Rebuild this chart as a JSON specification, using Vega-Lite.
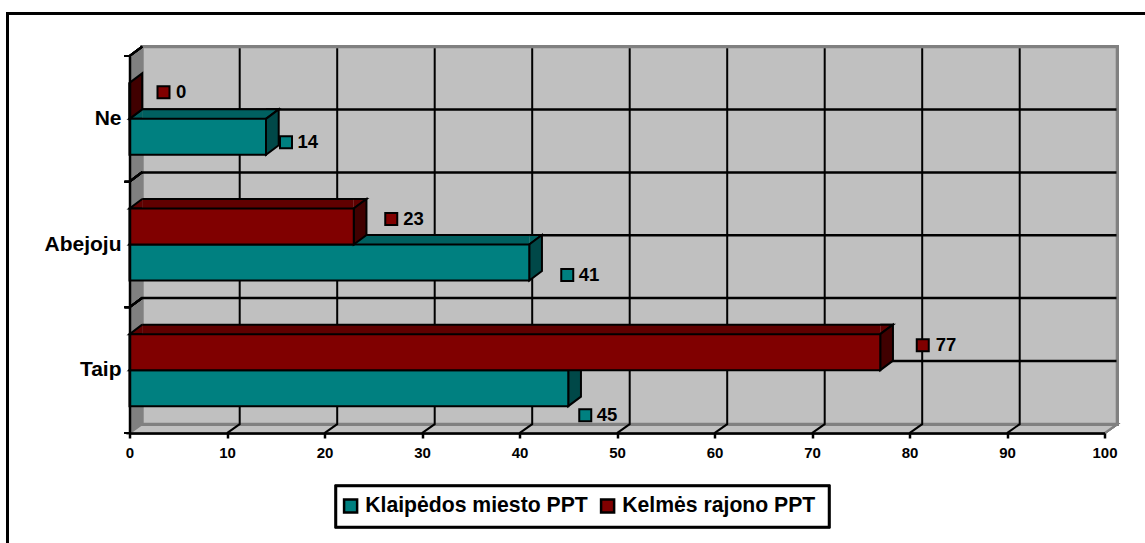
{
"$schema":"https://vega.github.io/schema/vega-lite/v6.json",
"width":975,"height":377,"autosize":"none",
"padding":{"left":129.5,"top":56,"right":40,"bottom":110},
"background":"white",
"config":{"view":{"stroke":null},"font":"Liberation Sans"},
"data":{"values":[
{"answer":"Taip","series":"Klaipėdos miesto PPT","value":45},
{"answer":"Abejoju","series":"Klaipėdos miesto PPT","value":41},
{"answer":"Ne","series":"Klaipėdos miesto PPT","value":14},
{"answer":"Taip","series":"Kelmės rajono PPT","value":77},
{"answer":"Abejoju","series":"Kelmės rajono PPT","value":23},
{"answer":"Ne","series":"Kelmės rajono PPT","value":0}
]},
"encoding":{
"x":{"field":"value","type":"quantitative","scale":{"domain":[0,100],"nice":false,"zero":true},"title":null,
"axis":{"values":[0,10,20,30,40,50,60,70,80,90,100],"grid":false,"zindex":1,"domainColor":"black","domainWidth":2.5,"tickColor":"black","tickWidth":2.5,"tickSize":5,"labelFont":"Liberation Sans","labelFontWeight":"bold","labelFontSize":15,"labelColor":"black","labelPadding":7,"labelFlush":false,"labelOverlap":false}},
"y":{"field":"answer","type":"nominal","scale":{"type":"band","domain":["Ne","Abejoju","Taip"],"paddingInner":0.427,"paddingOuter":0.2135},"title":null,
"axis":{"ticks":false,"grid":false,"zindex":1,"domainColor":"black","domainWidth":2.5,"labelFont":"Liberation Sans","labelFontWeight":"bold","labelFontSize":21,"labelColor":"black","labelPadding":8.5}}
},
"layer":[
{"mark":{"type":"point","shape":"M-122,173 L-122,-357 L1016,-357","filled":false,"stroke":"black","strokeWidth":2.5,"size":4,"opacity":1},
 "encoding":{"x":{"datum":0},"y":{"datum":"Taip"}}},
{"mark":{"type":"point","shape":"M206.5,115.8 L699.5,115.8 L699.5,156.8 L206.5,156.8 Z","filled":true,"fill":"white","stroke":"black","strokeWidth":2.5,"size":4,"opacity":1},
 "encoding":{"x":{"datum":0},"y":{"datum":"Taip"}}},
{"mark":{"type":"point","shape":"M0,-314 L12.7,-323.5 L12.7,54 L0,63 Z","filled":true,"fill":"#808080","stroke":"#808080","strokeWidth":1,"size":4,"opacity":1},
 "encoding":{"x":{"datum":0},"y":{"datum":"Taip"}}},
{"mark":{"type":"point","shape":"M0,63 L12.7,54 L987.7,54 L975,63 Z","filled":true,"fill":"#c0c0c0","stroke":"#808080","strokeWidth":2,"size":4,"opacity":1},
 "encoding":{"x":{"datum":0},"y":{"datum":"Taip"}}},
{"mark":{"type":"point","shape":"M12.7,-323.5 L987.7,-323.5 L987.7,54 L12.7,54 Z","filled":true,"fill":"#c0c0c0","stroke":"#808080","strokeWidth":3,"size":4,"opacity":1},
 "encoding":{"x":{"datum":0},"y":{"datum":"Taip"}}},
{"data":{"values":[{"tick":10},{"tick":20},{"tick":30},{"tick":40},{"tick":50},{"tick":60},{"tick":70},{"tick":80},{"tick":90}]},
 "mark":{"type":"point","shape":"M12.7,-322 L12.7,54 L0,63","filled":false,"stroke":"black","strokeWidth":2,"size":4,"opacity":1},
 "encoding":{"x":{"field":"tick","type":"quantitative"},"y":{"datum":"Taip"}}},
{"transform":[{"filter":"datum.series==='Klaipėdos miesto PPT'"}],
 "mark":{"type":"point","shape":"M12.7,-9.5 L986,-9.5 L986,-9 L12.7,-9 Z","filled":false,"stroke":"black","strokeWidth":2,"size":4,"opacity":1},
 "encoding":{"x":{"datum":0}}},
{"transform":[{"filter":"datum.series==='Klaipėdos miesto PPT' && datum.answer!=='Taip'"}],
 "mark":{"type":"point","shape":"M12.7,53.3 L986,53.3 L986,53.8 L12.7,53.8 Z","filled":false,"stroke":"black","strokeWidth":2,"size":4,"opacity":1},
 "encoding":{"x":{"datum":0}}},
{"mark":{"type":"point","shape":"M-5,-314.2 L0,-314.2 L12.7,-323.5 M-5,-188.5 L0,-188.5 L12.7,-198 M-5,-62.8 L0,-62.8 L12.7,-72.3 M-5,62.8 L0,62.8","filled":false,"stroke":"black","strokeWidth":2,"size":4,"opacity":1},
 "encoding":{"x":{"datum":0},"y":{"datum":"Taip"}}},

{"transform":[{"filter":"datum.series==='Klaipėdos miesto PPT'"}],
 "layer":[
 {"mark":{"type":"point","shape":"M12.7,0 L0,0 L12.7,-9.5","filled":true,"fill":"#006060","stroke":"black","strokeWidth":2,"size":4,"opacity":1},"encoding":{"x":{"datum":0}}},
 {"mark":{"type":"rule","color":"#006060","strokeWidth":9.5,"x2Offset":12.7,"yOffset":-4.75},"encoding":{"x2":{"datum":0}}},
 {"mark":{"type":"rule","color":"black","strokeWidth":2,"xOffset":12.7,"x2Offset":12.7,"yOffset":-9.5},"encoding":{"x2":{"datum":0}}},
 {"mark":{"type":"point","shape":"M0,0 L12.7,-9.5 L0,-9.5","filled":true,"fill":"#006060","stroke":"black","strokeWidth":2,"size":4,"opacity":1}},
 {"mark":{"type":"point","shape":"M0,0 L12.7,-9.5 L12.7,26.5 L0,36 Z","filled":true,"fill":"#004848","stroke":"black","strokeWidth":2,"size":4,"opacity":1}},
 {"mark":{"type":"bar","stroke":"black","strokeWidth":2},
  "encoding":{"yOffset":{"field":"series","type":"nominal","scale":{"domain":["Kelmės rajono PPT","Klaipėdos miesto PPT"]}},
   "color":{"field":"series","type":"nominal","scale":{"domain":["Klaipėdos miesto PPT","Kelmės rajono PPT"],"range":["#008080","#800000"]},
    "legend":{"title":null,"orient":"none","legendX":210.5,"legendY":439,"direction":"horizontal","columns":2,"symbolType":"square","symbolSize":170,"symbolStrokeColor":"black","symbolStrokeWidth":2.5,"labelFont":"Liberation Sans","labelFontWeight":"bold","labelFontSize":21.2,"labelColor":"black","labelOffset":4,"labelLimit":400,"columnPadding":8,"padding":0}}}}
 ]},

{"transform":[{"filter":"datum.series==='Kelmės rajono PPT'"}],
 "layer":[
 {"transform":[{"filter":"datum.value>1.4"}],
  "layer":[
  {"mark":{"type":"point","shape":"M12.7,-36 L0,-36 L12.7,-45.5","filled":true,"fill":"#600000","stroke":"black","strokeWidth":2,"size":4,"opacity":1},"encoding":{"x":{"datum":0}}},
  {"mark":{"type":"rule","color":"#600000","strokeWidth":9.5,"x2Offset":12.7,"yOffset":-40.75},"encoding":{"x2":{"datum":0}}},
  {"mark":{"type":"rule","color":"black","strokeWidth":2,"xOffset":12.7,"x2Offset":12.7,"yOffset":-45.5},"encoding":{"x2":{"datum":0}}},
  {"mark":{"type":"point","shape":"M0,-36 L12.7,-45.5 L0,-45.5","filled":true,"fill":"#600000","stroke":"black","strokeWidth":2,"size":4,"opacity":1}}
  ]},
 {"mark":{"type":"point","shape":"M0,-36 L12.7,-45.5 L12.7,-9.5 L0,0 Z","filled":true,"fill":"#400000","stroke":"black","strokeWidth":2,"size":4,"opacity":1}},
 {"mark":{"type":"bar","stroke":"black","strokeWidth":2},
  "encoding":{"yOffset":{"field":"series","type":"nominal","scale":{"domain":["Kelmės rajono PPT","Klaipėdos miesto PPT"]}},
   "color":{"field":"series","type":"nominal","scale":{"domain":["Klaipėdos miesto PPT","Kelmės rajono PPT"],"range":["#008080","#800000"]}}}}
 ]},

{"transform":[{"filter":"datum.value===0"}],"layer":[
 {"mark":{"type":"point","shape":"square","filled":true,"fill":"#800000","stroke":"black","strokeWidth":2,"size":144,"opacity":1,"xOffset":34,"yOffset":-26.5}},
 {"mark":{"type":"text","align":"left","baseline":"middle","fontWeight":"bold","fontSize":18.5,"color":"black","dx":46.5,"dy":-26.5},"encoding":{"text":{"field":"value"}}}]},
{"transform":[{"filter":"datum.value===14"}],"layer":[
 {"mark":{"type":"point","shape":"square","filled":true,"fill":"#008080","stroke":"black","strokeWidth":2,"size":144,"opacity":1,"xOffset":20,"yOffset":23.5}},
 {"mark":{"type":"text","align":"left","baseline":"middle","fontWeight":"bold","fontSize":18.5,"color":"black","dx":31.5,"dy":23.5},"encoding":{"text":{"field":"value"}}}]},
{"transform":[{"filter":"datum.value===23"}],"layer":[
 {"mark":{"type":"point","shape":"square","filled":true,"fill":"#800000","stroke":"black","strokeWidth":2,"size":144,"opacity":1,"xOffset":37.5,"yOffset":-25.5}},
 {"mark":{"type":"text","align":"left","baseline":"middle","fontWeight":"bold","fontSize":18.5,"color":"black","dx":49.5,"dy":-25.5},"encoding":{"text":{"field":"value"}}}]},
{"transform":[{"filter":"datum.value===41"}],"layer":[
 {"mark":{"type":"point","shape":"square","filled":true,"fill":"#008080","stroke":"black","strokeWidth":2,"size":144,"opacity":1,"xOffset":38,"yOffset":30.5}},
 {"mark":{"type":"text","align":"left","baseline":"middle","fontWeight":"bold","fontSize":18.5,"color":"black","dx":49.5,"dy":30.5},"encoding":{"text":{"field":"value"}}}]},
{"transform":[{"filter":"datum.value===77"}],"layer":[
 {"mark":{"type":"point","shape":"square","filled":true,"fill":"#800000","stroke":"black","strokeWidth":2,"size":144,"opacity":1,"xOffset":42.5,"yOffset":-25}},
 {"mark":{"type":"text","align":"left","baseline":"middle","fontWeight":"bold","fontSize":18.5,"color":"black","dx":55.5,"dy":-25},"encoding":{"text":{"field":"value"}}}]},
{"transform":[{"filter":"datum.value===45"}],"layer":[
 {"mark":{"type":"point","shape":"square","filled":true,"fill":"#008080","stroke":"black","strokeWidth":2,"size":144,"opacity":1,"xOffset":17,"yOffset":45}},
 {"mark":{"type":"text","align":"left","baseline":"middle","fontWeight":"bold","fontSize":18.5,"color":"black","dx":28.5,"dy":45},"encoding":{"text":{"field":"value"}}}]}
]
}
